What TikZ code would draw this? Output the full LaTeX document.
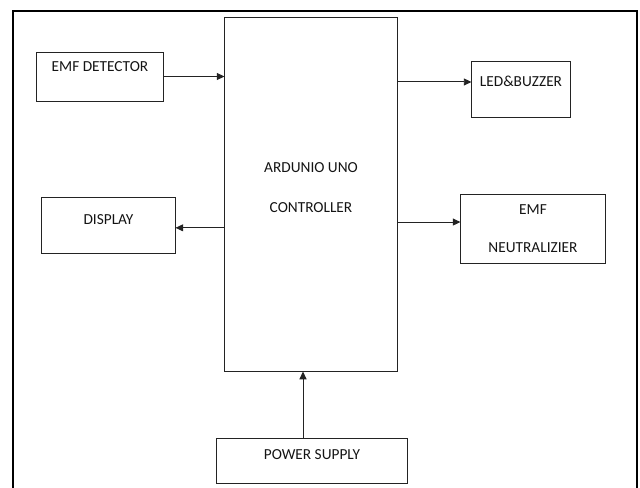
\documentclass[tikz,border=0pt]{standalone}
\usepackage{fontspec}
\setmainfont{Carlito}
\usepackage{tikz}
\usepackage{xcolor}
\usetikzlibrary{arrows.meta}
\definecolor{emfline}{RGB}{35,35,35}
\definecolor{emftext}{RGB}{20,20,20}
\tikzset{
  emfbox/.style={draw=emfline, line width=.7pt, rectangle, align=center, text=emftext, inner sep=2pt},
  emfarr/.style={-{Triangle[length=5.5pt,width=5pt]}, line width=.7pt, draw=emfline},
  emfframe/.style={draw=black, line width=1.4pt}
}

\begin{document}
\begin{tikzpicture}[x=.025cm, y=-.025cm, font=\fontsize{10.9}{13}\selectfont]
  \useasboundingbox (0,0) rectangle (640,488);
  \draw[emfframe] (13,500) -- (13,11) -- (637,11) -- (637,500);
  \node[emfbox, minimum width=4.3cm, minimum height=8.825cm, text depth=10pt] (main) at (311,194.5) {ARDUNIO UNO\\[16pt]CONTROLLER};
  \node[emfbox, minimum width=3.15cm, minimum height=1.225cm, text depth=14pt] (det) at (100,76.5) {EMF DETECTOR};
  \node[emfbox, minimum width=2.45cm, minimum height=1.4cm, text depth=11pt] (led) at (521,89) {LED\&BUZZER};
  \node[emfbox, minimum width=3.325cm, minimum height=1.4cm, text depth=8pt] (disp) at (108.5,225) {DISPLAY};
  \node[emfbox, minimum width=3.6cm, minimum height=1.725cm, text depth=-3.6pt] (neut) at (533,228.5) {EMF\\[14.5pt]NEUTRALIZIER};
  \node[emfbox, minimum width=4.75cm, minimum height=1.125cm, text depth=8.5pt] (pow) at (312,460.5) {POWER SUPPLY};
  \draw[emfarr] (det.east) -- (det.east -| main.west);
  \draw[emfarr] ([yshift=5pt]led.west -| main.east) -- ([yshift=5pt]led.west);
  \draw[emfarr] ([yshift=-2pt]disp.east -| main.west) -- ([yshift=-2pt]disp.east);
  \draw[emfarr] ([yshift=4.6pt]neut.west -| main.east) -- ([yshift=4.6pt]neut.west);
  \draw[emfarr] ([xshift=-6.4pt]pow.north) -- ([xshift=-6.4pt]pow.north |- main.south);
\end{tikzpicture}
\end{document}
